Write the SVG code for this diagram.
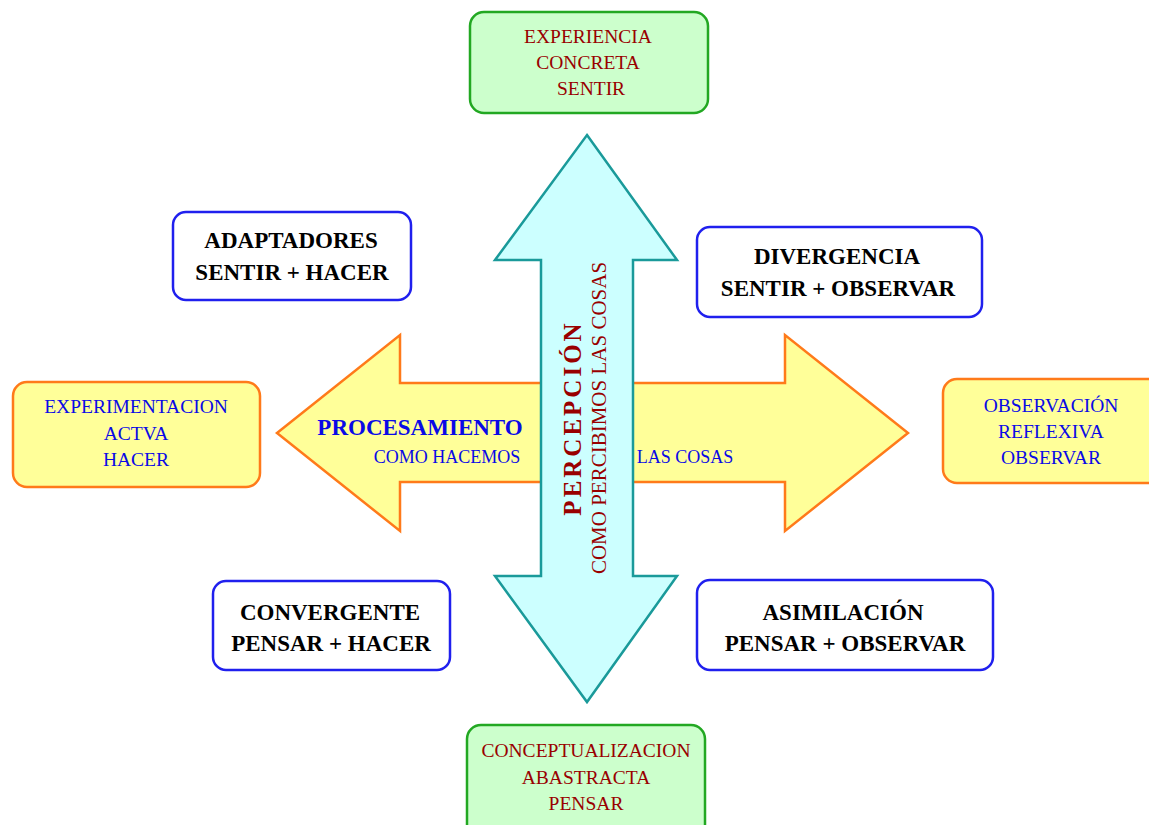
<svg xmlns="http://www.w3.org/2000/svg" width="1149" height="825" viewBox="0 0 1149 825">
  <style>
    text { font-family: "Liberation Serif", "Times New Roman", serif; text-anchor: middle; }
    .green { fill: #ccffcc; stroke: #22a822; stroke-width: 2.5; }
    .orange { fill: #ffff99; stroke: #ff7a1a; stroke-width: 2.5; }
    .blue { fill: #ffffff; stroke: #2020ee; stroke-width: 2.5; }
    .red { fill: #990000; font-size: 19.5px; }
    .bl { fill: #0a0ae6; font-size: 19.5px; }
    .blk { fill: #000000; font-size: 23px; font-weight: bold; }
    .harrow { fill: #ffff99; stroke: #ff7a1a; stroke-width: 2.5; stroke-linejoin: miter; }
    .varrow { fill: #ccffff; stroke: #1a9a9a; stroke-width: 2.5; stroke-linejoin: miter; }
  </style>
  <rect width="1149" height="825" fill="#ffffff"/>

  <g id="connectors">
    <g id="procesamiento-arrow">
      <polygon class="harrow" points="277,433 400,335 400,383 785,383 785,335 908,433 785,531 785,482 400,482 400,531"/>
      <text x="420" y="435" fill="#0a0ae6" font-size="23" font-weight="bold">PROCESAMIENTO</text>
      <text x="447" y="463" fill="#0a0ae6" font-size="18">COMO HACEMOS</text>
      <text x="685" y="463" fill="#0a0ae6" font-size="18">LAS COSAS</text>
    </g>
    <g id="percepcion-arrow">
      <polygon class="varrow" points="587,135 677,260 633,260 633,576 677,576 587,702 495,576 541,576 541,260 495,260"/>
      <text transform="translate(581,418) rotate(-90)" fill="#990000" font-size="25" font-weight="bold" letter-spacing="3">PERCEPCIÓN</text>
      <text transform="translate(606,418) rotate(-90)" fill="#990000" font-size="21">COMO PERCIBIMOS LAS COSAS</text>
    </g>
  </g>

  <g id="experiencia-concreta">
    <rect class="green" x="470" y="12" width="238" height="101" rx="14"/>
    <text class="red" x="588" y="43">EXPERIENCIA</text>
    <text class="red" x="588" y="69">CONCRETA</text>
    <text class="red" x="591" y="95">SENTIR</text>
  </g>

  <g id="conceptualizacion-abstracta">
    <rect class="green" x="467" y="725" width="238" height="115" rx="14"/>
    <text class="red" x="586" y="757">CONCEPTUALIZACION</text>
    <text class="red" x="586" y="784">ABASTRACTA</text>
    <text class="red" x="586" y="810">PENSAR</text>
  </g>

  <g id="experimentacion-activa">
    <rect class="orange" x="13" y="382" width="247" height="105" rx="14"/>
    <text class="bl" x="136" y="413">EXPERIMENTACION</text>
    <text class="bl" x="136" y="440">ACTVA</text>
    <text class="bl" x="136" y="466">HACER</text>
  </g>

  <g id="observacion-reflexiva">
    <rect class="orange" x="943" y="379" width="230" height="104" rx="14"/>
    <text class="bl" x="1051" y="412">OBSERVACIÓN</text>
    <text class="bl" x="1051" y="438">REFLEXIVA</text>
    <text class="bl" x="1051" y="464">OBSERVAR</text>
  </g>

  <g id="adaptadores">
    <rect class="blue" x="173" y="212" width="238" height="88" rx="13"/>
    <text class="blk" x="291" y="248">ADAPTADORES</text>
    <text class="blk" x="292" y="280">SENTIR + HACER</text>
  </g>

  <g id="divergencia">
    <rect class="blue" x="697" y="227" width="285" height="90" rx="13"/>
    <text class="blk" x="837" y="264">DIVERGENCIA</text>
    <text class="blk" x="838" y="296">SENTIR + OBSERVAR</text>
  </g>

  <g id="convergente">
    <rect class="blue" x="213" y="581" width="237" height="89" rx="13"/>
    <text class="blk" x="330" y="620">CONVERGENTE</text>
    <text class="blk" x="331" y="651">PENSAR + HACER</text>
  </g>

  <g id="asimilacion">
    <rect class="blue" x="697" y="580" width="296" height="90" rx="13"/>
    <text class="blk" x="843" y="620">ASIMILACIÓN</text>
    <text class="blk" x="845" y="651">PENSAR + OBSERVAR</text>
  </g>
</svg>
